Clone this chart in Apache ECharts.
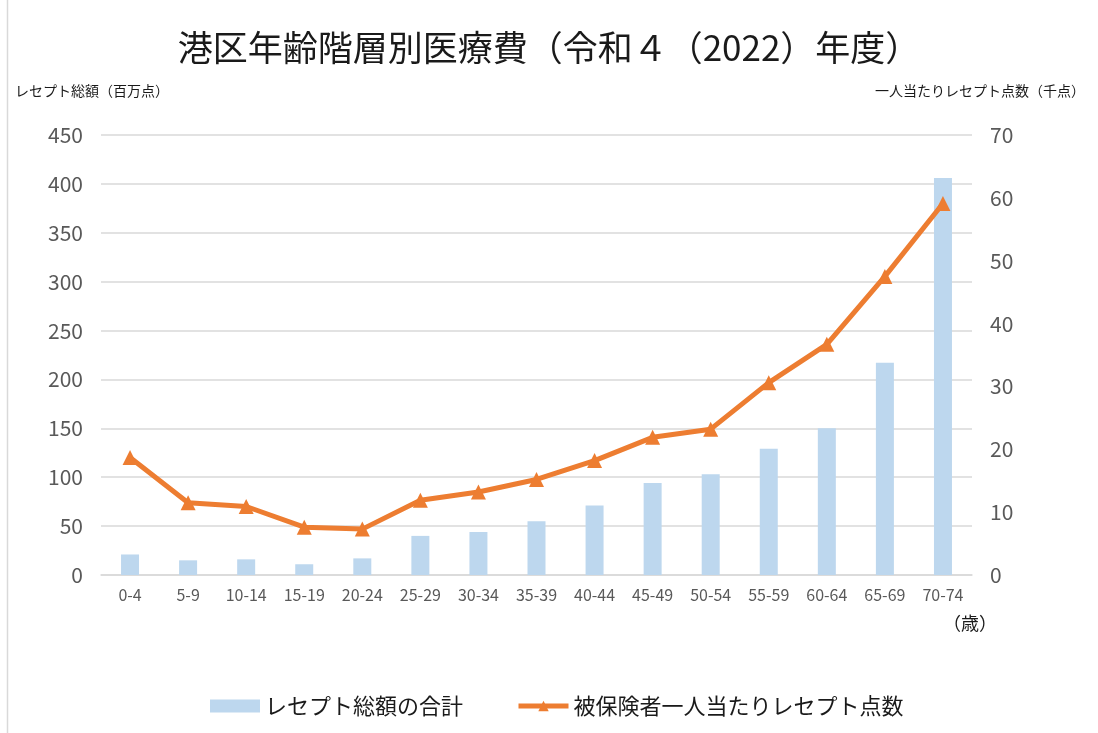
<!DOCTYPE html>
<html><head><meta charset="utf-8">
<script src="https://cdn.jsdelivr.net/npm/echarts@6/dist/echarts.min.js"></script>
<style>html,body{margin:0;padding:0;background:#fff}#c{width:1098px;height:733px}</style>
</head><body><div id="c"></div>
<script>
const categories = ['0-4','5-9','10-14','15-19','20-24','25-29','30-34','35-39','40-44','45-49','50-54','55-59','60-64','65-69','70-74'];
const totalValues = [21, 15, 16, 11, 17, 40, 44, 55, 71, 94, 103, 129, 150, 217, 406];
const perPersonValues = [18.7, 11.5, 10.9, 7.6, 7.3, 11.9, 13.2, 15.2, 18.2, 21.9, 23.2, 30.6, 36.7, 47.5, 59.1];
const leftTicks = [0, 50, 100, 150, 200, 250, 300, 350, 400, 450];
const rightTicks = [0, 10, 20, 30, 40, 50, 60, 70];

const numFont = '"Liberation Sans Narrow", "Noto Sans CJK JP", sans-serif';
const jpFont = '"Noto Sans CJK JP", sans-serif';
const chart = echarts.init(document.getElementById('c'));
chart.setOption({
  backgroundColor: '#fff',
  animation: false,
  title: {
    text: '港区年齢階層別医療費（令和４（2022）年度）',
    left: 'center', top: 25,
    textStyle: { fontFamily: jpFont, fontSize: 35, fontWeight: 'normal', color: '#1a1a1a' }
  },
  grid: { left: 101, right: 126, top: 135, bottom: 158 },
  legend: {
    left: 205, top: 690,
    itemWidth: 50, itemHeight: 13, itemGap: 53,
    textStyle: { fontFamily: jpFont, fontSize: 22, color: '#1a1a1a' },
    data: [
      { name: 'レセプト総額の合計', icon: 'rect' },
      { name: '被保険者一人当たりレセプト点数', lineStyle: { width: 5, color: '#ED7D31' } }
    ]
  },
  xAxis: {
    type: 'category', data: categories,
    axisLine: { lineStyle: { color: '#d9d9d9', width: 1.5 } },
    axisTick: { show: false },
    axisLabel: { fontFamily: numFont, fontSize: 16, color: '#595959', margin: 12 }
  },
  yAxis: [
    {
      type: 'value', min: leftTicks[0], max: leftTicks[leftTicks.length - 1], interval: 50,
      axisLine: { show: false }, axisTick: { show: false },
      splitLine: { lineStyle: { color: '#d9d9d9', width: 1.5 } },
      axisLabel: { fontFamily: numFont, fontSize: 21, color: '#595959', margin: 18 }
    },
    {
      type: 'value', min: rightTicks[0], max: rightTicks[rightTicks.length - 1], interval: 10,
      axisLine: { show: false }, axisTick: { show: false }, splitLine: { show: false },
      axisLabel: { fontFamily: numFont, fontSize: 21, color: '#595959', margin: 18 }
    }
  ],
  series: [
    {
      name: 'レセプト総額の合計', type: 'bar', data: totalValues, yAxisIndex: 0,
      barWidth: 18, itemStyle: { color: '#BDD7EE' }
    },
    {
      name: '被保険者一人当たりレセプト点数', type: 'line', data: perPersonValues, yAxisIndex: 1,
      symbol: 'triangle', symbolSize: 15,
      lineStyle: { color: '#ED7D31', width: 5 },
      itemStyle: { color: '#ED7D31' }
    }
  ],
  graphic: [
    { type: 'line', shape: { x1: 7.5, y1: 0, x2: 7.5, y2: 733 }, style: { stroke: '#d9d9d9', lineWidth: 1.5 } },
    { type: 'text', left: 15, top: 84, style: { text: 'レセプト総額（百万点）', fontFamily: jpFont, fontSize: 14, fill: '#1a1a1a' } },
    { type: 'text', right: 13, top: 84, style: { text: '一人当たりレセプト点数（千点）', fontFamily: jpFont, fontSize: 14, fill: '#1a1a1a' } },
    { type: 'text', left: 943, top: 614, style: { text: '（歳）', fontFamily: jpFont, fontSize: 18, fill: '#1a1a1a' } }
  ]
});
</script></body></html>
